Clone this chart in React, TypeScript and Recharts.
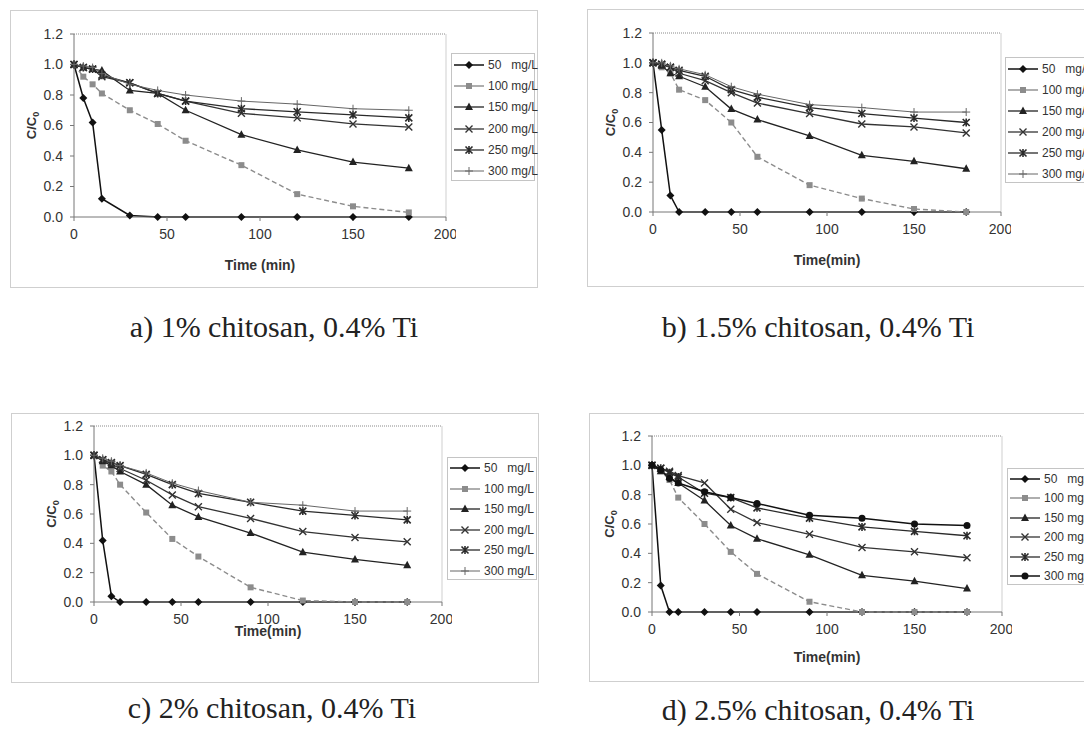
import React from "react";
import { LineChart, Line, XAxis, YAxis, ReferenceLine, Label } from "recharts";

const TIME = [0, 5, 10, 15, 30, 45, 60, 90, 120, 150, 180];
const SERIES_KEYS = ["s50", "s100", "s150", "s200", "s250", "s300"];
const SERIES_LABELS = ["50   mg/L", "100 mg/L", "150 mg/L", "200 mg/L", "250 mg/L", "300 mg/L"];
const X_TICKS = [0, 50, 100, 150, 200];
const Y_TICKS = [0, 0.2, 0.4, 0.6, 0.8, 1.0, 1.2];

// a) 1% chitosan, 0.4% Ti
const A_50 = [1.0, 0.78, 0.62, 0.12, 0.01, 0, 0, 0, 0, 0, 0];
const A_100 = [1.0, 0.92, 0.87, 0.81, 0.7, 0.61, 0.5, 0.34, 0.15, 0.07, 0.03];
const A_150 = [1.0, 0.98, 0.97, 0.96, 0.83, 0.81, 0.7, 0.54, 0.44, 0.36, 0.32];
const A_200 = [1.0, 0.98, 0.97, 0.92, 0.88, 0.81, 0.76, 0.68, 0.65, 0.61, 0.59];
const A_250 = [1.0, 0.98, 0.97, 0.93, 0.88, 0.81, 0.76, 0.71, 0.69, 0.67, 0.65];
const A_300 = [1.0, 0.99, 0.98, 0.94, 0.87, 0.83, 0.8, 0.76, 0.74, 0.71, 0.7];

// b) 1.5% chitosan, 0.4% Ti
const B_50 = [1.0, 0.55, 0.11, 0, 0, 0, 0, 0, 0, 0, 0];
const B_100 = [1.0, 0.97, 0.93, 0.82, 0.75, 0.6, 0.37, 0.18, 0.09, 0.02, 0.0];
const B_150 = [1.0, 0.98, 0.93, 0.91, 0.84, 0.69, 0.62, 0.51, 0.38, 0.34, 0.29];
const B_200 = [1.0, 0.99, 0.97, 0.93, 0.88, 0.8, 0.73, 0.66, 0.59, 0.57, 0.53];
const B_250 = [1.0, 0.99, 0.97, 0.95, 0.91, 0.82, 0.77, 0.7, 0.66, 0.63, 0.6];
const B_300 = [1.0, 1.0, 0.98, 0.96, 0.92, 0.84, 0.79, 0.72, 0.7, 0.67, 0.67];

// c) 2% chitosan, 0.4% Ti
const C_50 = [1.0, 0.42, 0.04, 0, 0, 0, 0, 0, 0, 0, 0];
const C_100 = [1.0, 0.93, 0.89, 0.8, 0.61, 0.43, 0.31, 0.1, 0.01, 0, 0];
const C_150 = [1.0, 0.96, 0.93, 0.89, 0.8, 0.66, 0.58, 0.47, 0.34, 0.29, 0.25];
const C_200 = [1.0, 0.97, 0.94, 0.91, 0.83, 0.73, 0.65, 0.57, 0.48, 0.44, 0.41];
const C_250 = [1.0, 0.97, 0.95, 0.93, 0.87, 0.8, 0.74, 0.68, 0.62, 0.59, 0.56];
const C_300 = [1.0, 0.98, 0.96, 0.93, 0.88, 0.81, 0.76, 0.68, 0.66, 0.62, 0.62];

// d) 2.5% chitosan, 0.4% Ti
const D_50 = [1.0, 0.18, 0, 0, 0, 0, 0, 0, 0, 0, 0];
const D_100 = [1.0, 0.96, 0.9, 0.78, 0.6, 0.41, 0.26, 0.07, 0, 0, 0];
const D_150 = [1.0, 0.96, 0.92, 0.88, 0.76, 0.59, 0.5, 0.39, 0.25, 0.21, 0.16];
const D_200 = [1.0, 0.98, 0.96, 0.93, 0.88, 0.7, 0.61, 0.53, 0.44, 0.41, 0.37];
const D_250 = [1.0, 0.98, 0.95, 0.92, 0.81, 0.78, 0.71, 0.64, 0.58, 0.55, 0.52];
const D_300 = [1.0, 0.97, 0.91, 0.88, 0.82, 0.78, 0.74, 0.66, 0.64, 0.6, 0.59];

const toRows = (cols: number[][]) =>
  TIME.map((t, i) => {
    const row: Record<string, number> = { t };
    SERIES_KEYS.forEach((k, j) => (row[k] = cols[j][i]));
    return row;
  });

type Shape = "diamond" | "square" | "triangle" | "x" | "star" | "plus" | "circle";

const STYLES: { color: string; width: number; dash?: string; shape: Shape }[] = [
  { color: "#111", width: 1.5, shape: "diamond" },
  { color: "#8c8c8c", width: 1.4, dash: "5 3", shape: "square" },
  { color: "#222", width: 1.3, shape: "triangle" },
  { color: "#333", width: 1.3, shape: "x" },
  { color: "#2a2a2a", width: 1.3, shape: "star" },
  { color: "#666", width: 1, shape: "plus" },
];

function Marker({ shape, cx, cy, color }: { shape: Shape; cx?: number; cy?: number; color: string }) {
  if (cx == null || cy == null) return null;
  switch (shape) {
    case "diamond":
      return <path d={`M${cx},${cy - 4}L${cx + 4},${cy}L${cx},${cy + 4}L${cx - 4},${cy}Z`} fill={color} />;
    case "square":
      return <rect x={cx - 3} y={cy - 3} width={6} height={6} fill={color} />;
    case "triangle":
      return <path d={`M${cx},${cy - 4.5}L${cx + 4},${cy + 3}L${cx - 4},${cy + 3}Z`} fill={color} />;
    case "x":
      return (
        <path
          d={`M${cx - 3.5},${cy - 3.5}L${cx + 3.5},${cy + 3.5}M${cx + 3.5},${cy - 3.5}L${cx - 3.5},${cy + 3.5}`}
          stroke={color}
          strokeWidth={1.4}
        />
      );
    case "star":
      return (
        <path
          d={`M${cx - 3.5},${cy - 3.5}L${cx + 3.5},${cy + 3.5}M${cx + 3.5},${cy - 3.5}L${cx - 3.5},${cy + 3.5}M${cx},${cy - 4}L${cx},${cy + 4}`}
          stroke={color}
          strokeWidth={1.6}
        />
      );
    case "plus":
      return (
        <path d={`M${cx - 4},${cy}L${cx + 4},${cy}M${cx},${cy - 4}L${cx},${cy + 4}`} stroke={color} strokeWidth={1} />
      );
    case "circle":
      return <circle cx={cx} cy={cy} r={3.5} fill={color} />;
  }
}

type Box = { x: number; y: number; w: number; h: number };

function Legend({ box, styles }: { box: Box; styles: typeof STYLES }) {
  const rowH = box.h / 6;
  return (
    <div
      style={{
        position: "absolute",
        left: box.x,
        top: box.y,
        width: box.w,
        height: box.h,
        border: "1px solid #c4c4c4",
        background: "#fff",
        boxSizing: "border-box",
        fontFamily: "'Liberation Sans', Arial, sans-serif",
        fontSize: 12,
        color: "#333",
        whiteSpace: "pre",
      }}
    >
      {styles.map((s, i) => (
        <div key={i} style={{ position: "absolute", left: 2, top: i * rowH + rowH / 2 - 7, height: 14, display: "flex", alignItems: "center" }}>
          <svg width={30} height={12} style={{ marginRight: 4 }}>
            <line x1={0} y1={6} x2={30} y2={6} stroke={s.color} strokeWidth={s.width} strokeDasharray={s.dash === "5 3" ? undefined : s.dash} />
            <Marker shape={s.shape} cx={15} cy={6} color={s.color} />
          </svg>
          <span>{SERIES_LABELS[i]}</span>
        </div>
      ))}
    </div>
  );
}

type PanelProps = {
  frame: Box;
  plot: Box;
  legend: Box;
  rows: Record<string, number>[];
  styles: typeof STYLES;
  xTitle: string;
  xTitleDy: number;
  caption: string;
  captionX: number;
  captionTop: number;
};

const TICK_FONT = { fill: "#333", fontSize: 14, fontFamily: "'Liberation Sans', Arial, sans-serif" };

function Panel(p: PanelProps) {
  const yW = 70;
  const mTop = 10;
  const xH = 60;
  const cx = p.plot.x - yW;
  const cy = p.plot.y - mTop;
  return (
    <>
      <div
        style={{
          position: "absolute",
          left: p.frame.x,
          top: p.frame.y,
          width: p.frame.w,
          height: p.frame.h,
          border: "1px solid #cfcfcf",
          boxSizing: "border-box",
        }}
      />
      <div style={{ position: "absolute", left: cx, top: cy }}>
        <LineChart
          width={p.plot.w + yW + 10}
          height={p.plot.h + mTop + xH}
          data={p.rows}
          margin={{ top: mTop, right: 10, left: 0, bottom: 0 }}
        >
          <XAxis
            dataKey="t"
            type="number"
            domain={[0, 200]}
            ticks={X_TICKS}
            stroke="#777"
            tickSize={4}
            tickMargin={8}
            tick={TICK_FONT}
            height={xH}
          >
            <Label
              content={({ viewBox }: any) => (
                <text
                  x={viewBox.x + viewBox.width / 2}
                  y={viewBox.y + p.xTitleDy}
                  textAnchor="middle"
                  fontFamily="'Liberation Sans', Arial, sans-serif"
                  fontWeight="bold"
                  fontSize={14}
                  fill="#333"
                >
                  {p.xTitle}
                </text>
              )}
            />
          </XAxis>
          <YAxis
            type="number"
            domain={[0, 1.2]}
            ticks={Y_TICKS}
            tickFormatter={(v: number) => v.toFixed(1)}
            stroke="#777"
            tickSize={4}
            tickMargin={7}
            tick={TICK_FONT}
            width={yW}
          >
            <Label
              content={({ viewBox }: any) => {
                const x = viewBox.x + viewBox.width - 38;
                const y = viewBox.y + viewBox.height / 2;
                return (
                  <text
                    x={x}
                    y={y}
                    transform={`rotate(-90 ${x} ${y})`}
                    textAnchor="middle"
                    fontFamily="'Liberation Sans', Arial, sans-serif"
                    fontWeight="bold"
                    fontSize={13}
                    fill="#333"
                  >
                    C/C
                    <tspan fontSize={9} dy={3}>
                      0
                    </tspan>
                  </text>
                );
              }}
            />
          </YAxis>
          <ReferenceLine y={1.2} stroke="#8a8a8a" strokeDasharray="1 1" />
          <ReferenceLine x={200} stroke="#cfcfcf" />
          {SERIES_KEYS.map((k, i) => {
            const s = p.styles[i];
            return (
              <Line
                key={k}
                dataKey={k}
                type="linear"
                stroke={s.color}
                strokeWidth={s.width}
                strokeDasharray={s.dash}
                isAnimationActive={false}
                dot={(d: any) => <Marker key={`${k}-${d.index}`} shape={s.shape} cx={d.cx} cy={d.cy} color={s.color} />}
                activeDot={false}
              />
            );
          })}
        </LineChart>
      </div>
      <Legend box={p.legend} styles={p.styles} />
      <div
        style={{
          position: "absolute",
          left: p.captionX - 250,
          width: 500,
          top: p.captionTop,
          textAlign: "center",
          fontFamily: "'Liberation Serif', 'Times New Roman', serif",
          fontSize: 30,
          color: "#222",
          whiteSpace: "nowrap",
        }}
      >
        {p.caption}
      </div>
    </>
  );
}

const STYLES_D = STYLES.map((s, i) => (i === 5 ? { color: "#111", width: 1.5, shape: "circle" as Shape } : s));

export default function App() {
  return (
    <div style={{ position: "absolute", left: 0, top: 0, width: 1084, height: 741, overflow: "hidden", background: "#fff" }}>
      <Panel
        frame={{ x: 10, y: 10, w: 528, h: 278 }}
        plot={{ x: 74, y: 34, w: 372, h: 183 }}
        legend={{ x: 451, y: 53, w: 84, h: 128 }}
        rows={toRows([A_50, A_100, A_150, A_200, A_250, A_300])}
        styles={STYLES}
        xTitle="Time (min)"
        xTitleDy={53}
        caption="a) 1% chitosan, 0.4% Ti"
        captionX={274}
        captionTop={310}
      />
      <Panel
        frame={{ x: 587, y: 9, w: 520, h: 278 }}
        plot={{ x: 653, y: 33, w: 348, h: 179 }}
        legend={{ x: 1005, y: 57, w: 100, h: 126 }}
        rows={toRows([B_50, B_100, B_150, B_200, B_250, B_300])}
        styles={STYLES}
        xTitle="Time(min)"
        xTitleDy={53}
        caption="b) 1.5% chitosan, 0.4% Ti"
        captionX={818}
        captionTop={310}
      />
      <Panel
        frame={{ x: 11, y: 413, w: 528, h: 270 }}
        plot={{ x: 94, y: 426, w: 348, h: 176 }}
        legend={{ x: 447, y: 457, w: 90, h: 123 }}
        rows={toRows([C_50, C_100, C_150, C_200, C_250, C_300])}
        styles={STYLES}
        xTitle="Time(min)"
        xTitleDy={34}
        caption="c) 2% chitosan, 0.4% Ti"
        captionX={272}
        captionTop={691}
      />
      <Panel
        frame={{ x: 589, y: 413, w: 520, h: 269 }}
        plot={{ x: 652, y: 436, w: 350, h: 176 }}
        legend={{ x: 1007, y: 468, w: 100, h: 117 }}
        rows={toRows([D_50, D_100, D_150, D_200, D_250, D_300])}
        styles={STYLES_D}
        xTitle="Time(min)"
        xTitleDy={50}
        caption="d) 2.5% chitosan, 0.4% Ti"
        captionX={818}
        captionTop={693}
      />
    </div>
  );
}
